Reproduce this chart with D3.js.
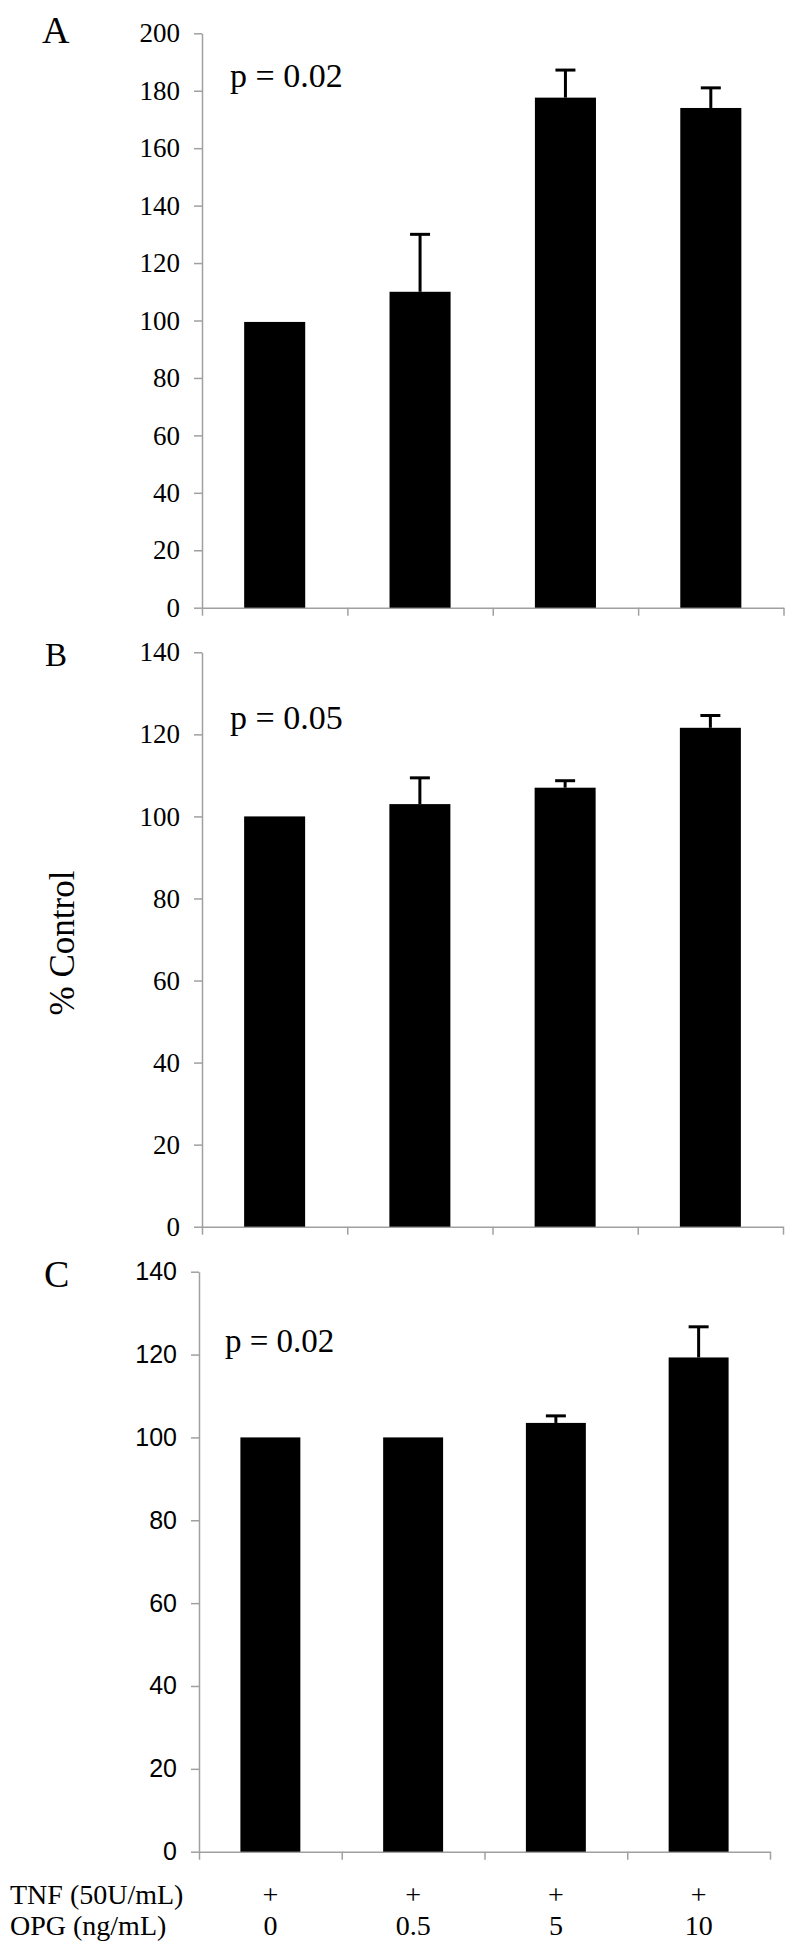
<!DOCTYPE html>
<html><head><meta charset="utf-8">
<script src="https://cdn.jsdelivr.net/npm/d3@7"></script>
<style>body{margin:0;background:#fff} svg{display:block}</style>
</head><body>
<svg id="chart" width="800" height="1954"></svg>
<script>
// ---------- data ----------
const categories = ["0", "0.5", "5", "10"];
const tnfMarks = ["+", "+", "+", "+"];
const rowLabels = ["TNF (50U/mL)", "OPG (ng/mL)"];
const panelLetters = ["A", "B", "C"];
const pValues = ["p = 0.02", "p = 0.05", "p = 0.02"];
const valuesA = [99.5, 110, 177.6, 174];
const errorsA = [0, 20, 9.6, 7];
const valuesB = [100, 103, 107, 121.6];
const errorsB = [0, 6.4, 1.7, 3];
const valuesC = [100, 100, 103.5, 119.3];
const errorsC = [0, 0, 1.7, 7.4];
const yMaxes = [200, 140, 140];
const yTickStep = 20;
const yLabel = "% Control";

// ---------- layout ----------
const SERIF = "Liberation Serif, Tinos, Times New Roman, DejaVu Serif, serif";
const SANS = "Liberation Sans, Arimo, Arial, Helvetica, sans-serif";
const layout = [
  {x0: 202, x1: 783.5, yTop: 33.3, yBot: 607.7, tickFont: SERIF, tickSize: 27,
   letterX: 42, letterY: 43, letterSize: 38, pX: 230, pY: 87, pSize: 34},
  {x0: 202, x1: 783, yTop: 652.3, yBot: 1226.7, tickFont: SERIF, tickSize: 27,
   letterX: 45, letterY: 666, letterSize: 33, pX: 230, pY: 729, pSize: 34},
  {x0: 199, x1: 770, yTop: 1271.7, yBot: 1851.7, tickFont: SANS, tickSize: 25,
   letterX: 44, letterY: 1287, letterSize: 38, pX: 225, pY: 1352, pSize: 33}
];
const series = [[valuesA, errorsA], [valuesB, errorsB], [valuesC, errorsC]];
const axisColor = "#a0a0a0";

const svg = d3.select("#chart");
let lastX = null;

series.forEach(([vals, errs], i) => {
  const L = layout[i];
  const g = svg.append("g");
  const x = d3.scaleBand().domain(categories).range([L.x0, L.x1]).padding(0);
  const xEdges = d3.scaleLinear().domain([0, categories.length]).range([L.x0, L.x1]);
  const y = d3.scaleLinear().domain([0, yMaxes[i]]).range([L.yBot, L.yTop]);
  const barW = x.bandwidth() * 0.42;

  // y axis
  const ya = g.append("g").attr("transform", `translate(${L.x0},0)`)
    .call(d3.axisLeft(y).tickValues(d3.range(0, yMaxes[i] + 1, yTickStep))
      .tickSize(8).tickSizeOuter(0).tickPadding(14));
  ya.attr("font-family", L.tickFont).attr("font-size", L.tickSize);
  ya.select(".domain").attr("stroke", axisColor).attr("stroke-width", 1.5);
  ya.selectAll(".tick line").attr("stroke", axisColor).attr("stroke-width", 1.5);
  ya.selectAll(".tick text").attr("fill", "#000");

  // x axis (ticks at band edges)
  const xa = g.append("g").attr("transform", `translate(0,${L.yBot})`)
    .call(d3.axisBottom(xEdges).tickValues(d3.range(0, categories.length + 1))
      .tickSize(8).tickSizeOuter(0).tickFormat(""));
  xa.select(".domain").attr("stroke", axisColor).attr("stroke-width", 1.5);
  xa.selectAll(".tick line").attr("stroke", axisColor).attr("stroke-width", 1.5);

  // bars
  g.selectAll("rect.bar").data(vals).join("rect").attr("class", "bar")
    .attr("x", (d, j) => x(categories[j]) + (x.bandwidth() - barW) / 2)
    .attr("width", barW)
    .attr("y", d => y(d))
    .attr("height", d => y(0) - y(d))
    .attr("fill", "#000");

  // error bars
  const eb = g.selectAll("g.err").data(vals.map((v, j) => ({v, e: errs[j], c: categories[j]})).filter(d => d.e > 0))
    .join("g").attr("class", "err");
  eb.append("line")
    .attr("x1", d => x(d.c) + x.bandwidth() / 2).attr("x2", d => x(d.c) + x.bandwidth() / 2)
    .attr("y1", d => y(d.v)).attr("y2", d => y(d.v + d.e))
    .attr("stroke", "#000").attr("stroke-width", 3);
  eb.append("line")
    .attr("x1", d => x(d.c) + x.bandwidth() / 2 - 10).attr("x2", d => x(d.c) + x.bandwidth() / 2 + 10)
    .attr("y1", d => y(d.v + d.e)).attr("y2", d => y(d.v + d.e))
    .attr("stroke", "#000").attr("stroke-width", 3);

  // panel letter and p-value
  svg.append("text").attr("x", L.letterX).attr("y", L.letterY).text(panelLetters[i])
    .attr("font-family", SERIF).attr("font-size", L.letterSize);
  svg.append("text").attr("x", L.pX).attr("y", L.pY).text(pValues[i])
    .attr("font-family", SERIF).attr("font-size", L.pSize);

  lastX = x;
});

// y label
svg.append("text").attr("transform", "translate(74,943) rotate(-90)")
  .attr("text-anchor", "middle").text(yLabel)
  .attr("font-family", SERIF).attr("font-size", 35);

// bottom category rows
const rowY = [1904, 1935];
rowLabels.forEach((t, k) => {
  svg.append("text").attr("x", 10).attr("y", rowY[k]).text(t)
    .attr("font-family", SERIF).attr("font-size", 28);
});
svg.selectAll("text.tnf").data(tnfMarks).join("text").attr("class", "tnf")
  .attr("x", (d, j) => lastX(categories[j]) + lastX.bandwidth() / 2).attr("y", rowY[0])
  .attr("text-anchor", "middle").text(d => d)
  .attr("font-family", SERIF).attr("font-size", 28);
svg.selectAll("text.opg").data(categories).join("text").attr("class", "opg")
  .attr("x", (d) => lastX(d) + lastX.bandwidth() / 2).attr("y", rowY[1])
  .attr("text-anchor", "middle").text(d => d)
  .attr("font-family", SERIF).attr("font-size", 28);
</script>
</body></html>
